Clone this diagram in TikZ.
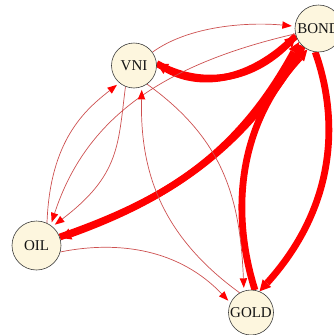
\documentclass[tikz,border=0pt]{standalone}
\usepackage{fontspec}
\setmainfont{Liberation Serif}
\usetikzlibrary{arrows.meta}
\definecolor{nodefill}{RGB}{253,246,222}
\definecolor{nodeline}{RGB}{60,60,60}
\definecolor{thinred}{RGB}{205,80,80}
\definecolor{edgered}{RGB}{255,0,0}
\pgfdeclarelayer{bg}
\pgfsetlayers{bg,main}
\begin{document}
\begin{tikzpicture}[x=1pt,y=-1pt,
  vertex/.style={circle,draw=nodeline,line width=0.6pt,fill=nodefill,inner sep=0pt,
    font=\fontsize{15}{17}\selectfont,text={rgb,255:red,20;green,20;blue,20}},
  thinedge/.style={draw=thinred,line width=0.7pt,
    -{Triangle[length=9.5pt,width=7.5pt,color=edgered,line width=0pt]},shorten >=3pt},
  heavyedge/.style={draw=edgered,line width=6.8pt,
    -{Triangle[length=11pt,width=11.5pt,line width=0pt]}}]
\useasboundingbox (0,0) rectangle (334,335);
\node[vertex,minimum size=45pt] (vni) at (134,65.5) {VNI};
\node[vertex,minimum size=47pt] (bond) at (318.5,28.5) {BOND};
\node[vertex,minimum size=49pt] (oil) at (36.5,245.5) {OIL};
\node[vertex,minimum size=45pt] (gold) at (251,312.5) {GOLD};
\begin{pgfonlayer}{bg}
% heavy edges
\draw[heavyedge] (vni.5) .. controls (200,88) and (250,82) .. (bond.198);
\draw[heavyedge] (bond.198) .. controls (250,82) and (200,88) .. (vni.5);
\draw[heavyedge] (oil.20) .. controls (160,202) and (235,160) .. (bond.215);
\draw[heavyedge] (bond.228) .. controls (245,150) and (165,200) .. (oil.18);
\draw[heavyedge] (gold.80) .. controls (233,220) and (233,130) .. (bond.242);
\draw[heavyedge] (bond.262) .. controls (336,110) and (342,200) .. (gold.68);
% thin edges
\draw[thinedge] (vni) .. controls (190,25) and (250,22) .. (bond);
\draw[thinedge] (bond) .. controls (160,65) and (85,120) .. (oil.55);
\draw[thinedge] (oil.65) .. controls (50,140) and (85,110) .. (vni.230);
\draw[thinedge] (vni.248) .. controls (118,145) and (120,175) .. (oil.50);
\draw[thinedge] (gold.120) .. controls (160,235) and (140,170) .. (vni.290);
\draw[thinedge] (vni.305) .. controls (225,140) and (240,200) .. (gold.108);
\draw[thinedge] (oil.-15) .. controls (120,240) and (180,250) .. (gold.155);
\end{pgfonlayer}
\end{tikzpicture}
\end{document}
